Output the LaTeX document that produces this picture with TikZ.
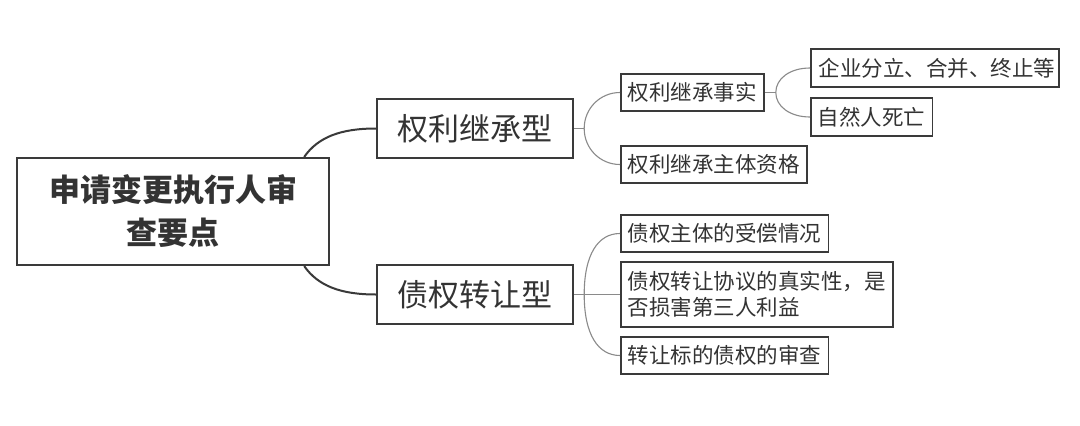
\documentclass[tikz,border=0pt]{standalone}
\usepackage{fontspec}
\newfontfamily\cjk{Noto Sans CJK SC}
\usetikzlibrary{calc}
\definecolor{boxc}{HTML}{3A3A3A}
\definecolor{txt}{HTML}{333333}
\definecolor{linec}{HTML}{3A3A3A}
\definecolor{thinc}{HTML}{8A8A8A}
\begin{document}
\begin{tikzpicture}[x=1pt,y=-1pt,
  main/.style={draw=boxc, line width=2.2pt, anchor=west, inner xsep=0pt, inner ysep=0pt, align=center, text=txt},
  sub/.style={draw=boxc, line width=1.8pt, anchor=west, inner xsep=7pt, inner ysep=0pt, align=center, text=txt, font=\cjk\fontsize{21.5}{26}\selectfont, minimum height=37.5pt},
  big/.style={line width=2pt, draw=linec},
  thin/.style={line width=1.1pt, draw=thinc}]
\useasboundingbox (0,0) rectangle (1080,426);
\fill[white] (0,0) rectangle (1080,426);

% root
\node[main, minimum width=312pt, minimum height=107pt, text width=300pt,
      font=\cjk\bfseries\fontsize{31}{43}\selectfont] (root) at (16,211.5) {申请变更执行人审\\查要点};

% level 1
\node[main, minimum width=196pt, minimum height=59pt, font=\cjk\fontsize{31}{37}\selectfont] (l1a) at (376,128.5) {权利继承型};
\node[main, minimum width=196pt, minimum height=59pt, font=\cjk\fontsize{31}{37}\selectfont] (l1b) at (376,294.5) {债权转让型};

% level 2 (upper)
\node[sub, minimum width=141pt] (l2a) at (620,92.5) {权利继承事实};
\node[sub, minimum width=184pt] (l2b) at (620,164.5) {权利继承主体资格};

% level 3
\node[sub, minimum width=248pt] (l3a) at (810,68) {\makebox[232pt][s]{企\hfil 业\hfil 分\hfil 立\hfil 、\hfil 合\hfil 并\hfil 、\hfil 终\hfil 止\hfil 等}};
\node[sub, minimum width=119pt] (l3b) at (810,117) {自然人死亡};

% level 2 (lower)
\node[sub, minimum width=206pt] (l2c) at (620,233.5) {债权主体的受偿情况};
\node[sub, minimum width=271pt, minimum height=65pt, align=left] (l2d) at (620,294.5) {债权转让协议的真实性，是\\否损害第三人利益};
\node[sub, minimum width=206pt] (l2e) at (620,355.5) {转让标的债权的审查};

% root connectors
\draw[big] ([xshift=-26pt]root.north east) .. controls +(14,-20) and +(-35,0) .. (l1a.west);
\draw[big] ([xshift=-26pt]root.south east) .. controls +(14,20) and +(-35,0) .. (l1b.west);

% l1a branches
\draw[thin] (l1a.east) -- ++(10,0) coordinate (ja);
\draw[thin] (ja) .. controls +(0,-20) and +(-20,0) .. (l2a.west);
\draw[thin] (ja) .. controls +(0,20) and +(-20,0) .. (l2b.west);

% l2a branches
\draw[thin] (l2a.east) -- ++(11,0) coordinate (jb);
\draw[thin] (jb) .. controls +(0,-14) and +(-20,0) .. (l3a.west);
\draw[thin] (jb) .. controls +(0,14) and +(-20,0) .. (l3b.west);

% l1b branches
\draw[thin] (l1b.east) -- ++(10,0) coordinate (jc);
\draw[thin] (jc) .. controls +(0,-40) and +(-22,0) .. (l2c.west);
\draw[thin] (jc) -- (l2d.west);
\draw[thin] (jc) .. controls +(0,40) and +(-22,0) .. (l2e.west);
\end{tikzpicture}
\end{document}
